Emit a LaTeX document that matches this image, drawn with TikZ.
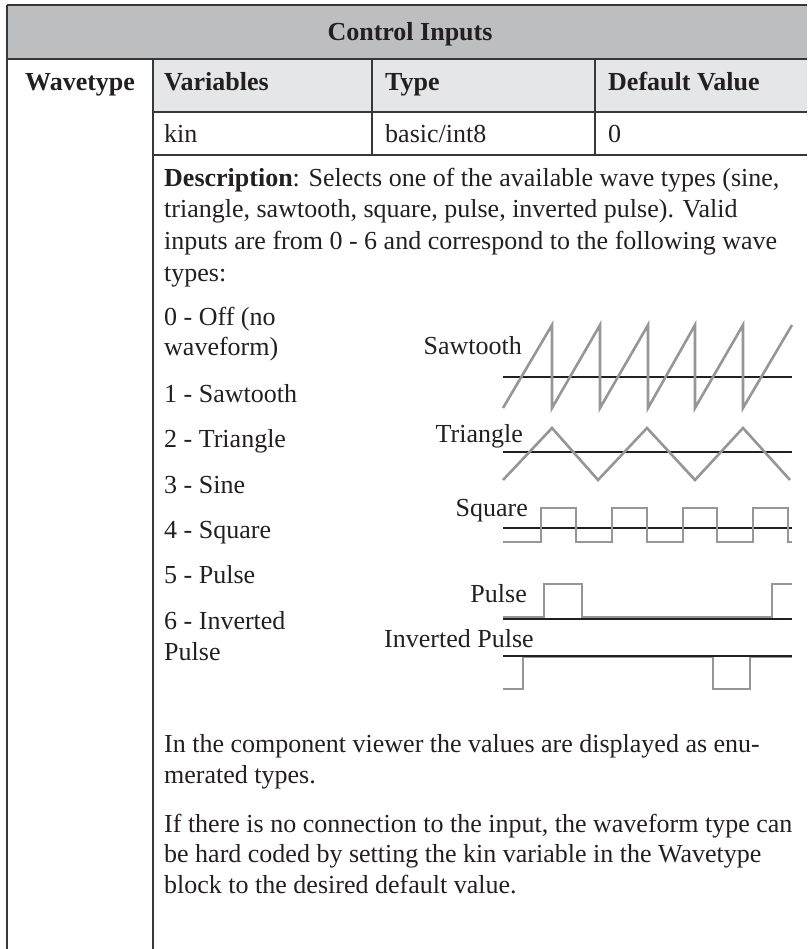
\documentclass[tikz,border=0pt]{standalone}
\usepackage{fontspec}
\setmainfont{Liberation Serif}
\definecolor{ink}{RGB}{35,31,32}
\definecolor{hdrfill}{RGB}{189,190,192}
\definecolor{subfill}{RGB}{229,230,231}
\definecolor{wave}{RGB}{150,150,150}
\definecolor{rule}{RGB}{55,55,55}
\begin{document}
\begin{tikzpicture}[x=1pt,y=-1pt,
  txt/.style={inner sep=0pt, anchor=base west, text=ink, font=\fontsize{26}{31}\selectfont},
  txtr/.style={txt, anchor=base east},
  hd/.style={txt, font=\fontsize{26}{31}\selectfont\bfseries},
  para/.style={txt, align=left},
  grid/.style={draw=rule, line width=1.3pt},
  sig/.style={draw=wave, line width=2.6pt},
  axisline/.style={draw=ink, line width=1.6pt}]
\useasboundingbox (0,0) rectangle (807,949);

% table shading
\fill[hdrfill] (7,5) rectangle (807,59);
\fill[subfill] (153,59) rectangle (807,112);

% table rules
\draw[grid] (7,5) -- (807,5);
\draw[grid] (7,59) -- (807,59);
\draw[grid] (153,112) -- (807,112);
\draw[grid] (153,155) -- (807,155);
\draw[grid] (7,5) -- (7,949);
\draw[grid] (153,59) -- (153,949);
\draw[grid] (372,59) -- (372,155);
\draw[grid] (595,59) -- (595,155);

% headings
\node[hd, anchor=base] (title) at (410,41) {Control Inputs};
\node[hd] (block) at (25,91) {Wavetype};
\node[hd] (hvar) at (164,91) {Variables};
\node[hd] (htype) at (385,91) {Type};
\node[hd] (hdef) at (608,91) {Default Value};

% variable row
\node[txt] (vname) at (164,143) {kin};
\node[txt] (vtype) at (385,143) {basic/int8};
\node[txt] (vdef) at (608,143) {0};

% description (anchored at the baseline of its last line)
\node[para, font=\fontsize{26}{31.5}\selectfont] (desc) at (164,281) {\textbf{Description}: Selects one of the available wave types (sine,\\
triangle, sawtooth, square, pulse, inverted pulse). Valid\\
inputs are from 0 - 6 and correspond to the following wave\\
types:};

% list of wave types
\node[txt] (w0a) at (164,325) {0 - Off (no};
\node[txt] (w0b) at (164,355) {waveform)};
\node[txt] (w1) at (164,402) {1 - Sawtooth};
\node[txt] (w2) at (164,447) {2 - Triangle};
\node[txt] (w3) at (164,493) {3 - Sine};
\node[txt] (w4) at (164,538) {4 - Square};
\node[txt] (w5) at (164,583) {5 - Pulse};
\node[txt] (w6a) at (164,629) {6 - Inverted};
\node[txt] (w6b) at (164,660) {Pulse};

% waveform labels
\node[txtr] (lsaw) at (522,354) {Sawtooth};
\node[txtr] (ltri) at (523,442) {Triangle};
\node[txtr] (lsq) at (528,516) {Square};
\node[txtr] (lpul) at (527,602) {Pulse};
\node[txt] (linv) at (384,647) {Inverted Pulse};

% sawtooth
\draw[axisline] (503,377) -- (792,377);
\draw[sig] (503,408) -- (552,325) -- (552,408) -- (600,325) -- (600,408)
  -- (648,325) -- (648,408) -- (695,325) -- (695,408) -- (743,325)
  -- (743,408) -- (792,325);

% triangle
\draw[axisline] (503,452) -- (792,452);
\draw[sig] (503,480) -- (552,428) -- (598,480) -- (647,428) -- (695,480)
  -- (743,428) -- (790,480);

% square
\draw[axisline] (503,528) -- (792,528);
\draw[sig] (503,542) -| (541,508) -| (576,542) -| (612,508) -| (647,542)
  -| (683,508) -| (717,542) -| (753,508) -| (788,542) -- (792,542);

% pulse
\draw[sig] (503,617) -| (544,584) -| (582,617) -| (772,584) -- (792,584);
\draw[axisline] (503,619) -- (792,619);

% inverted pulse
\draw[sig] (503,689) -| (523,657) -| (713,689) -| (750,657) -- (792,657);
\draw[axisline] (503,656) -- (792,656);

% closing notes (anchored at the baseline of their last lines)
\node[para] (note1) at (164,783) {In the component viewer the values are displayed as enu-\\
merated types.};
\node[para, font=\fontsize{26}{30.5}\selectfont] (note2) at (164,893) {If there is no connection to the input, the waveform type can\\
be hard coded by setting the kin variable in the Wavetype\\
block to the desired default value.};
\end{tikzpicture}
\end{document}
